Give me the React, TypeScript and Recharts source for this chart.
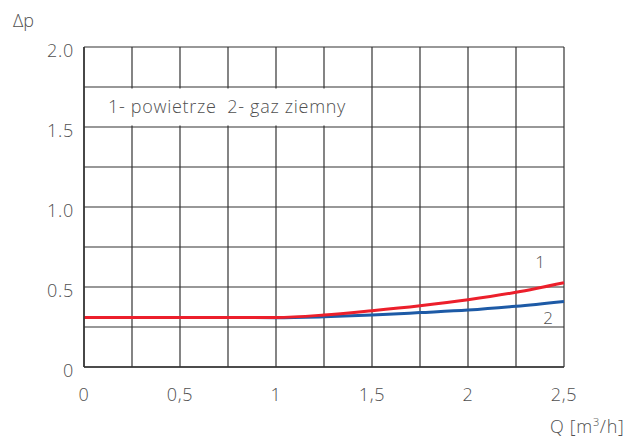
import React from "react";
import {
  LineChart,
  Line,
  XAxis,
  YAxis,
  CartesianGrid,
  ReferenceArea,
  ReferenceDot,
} from "recharts";

const flowQ = [0, 0.25, 0.5, 0.75, 1, 1.25, 1.5, 1.75, 2, 2.25, 2.5];
const airDp = [0.31, 0.31, 0.31, 0.31, 0.31, 0.325, 0.352, 0.383, 0.42, 0.467, 0.527];
const gasDp = [0.31, 0.31, 0.31, 0.31, 0.308, 0.314, 0.325, 0.34, 0.356, 0.38, 0.41];

const xTicks = [0, 0.25, 0.5, 0.75, 1, 1.25, 1.5, 1.75, 2, 2.25, 2.5];
const yTicks = [0, 0.25, 0.5, 0.75, 1, 1.25, 1.5, 1.75, 2];

const FONT = "'Open Sans', Roboto, sans-serif";
const TEXT = "#505050";
const FS = 18;
const LS = 0.7;

const data = flowQ.map((q, i) => ({ q, air: airDp[i], gas: gasDp[i] }));

const isMajor = (v: number) => Math.abs(v * 2 - Math.round(v * 2)) < 1e-6;

function XTick({ x, y, payload }: any) {
  const v = payload.value as number;
  if (!isMajor(v)) return null;
  const label = v === 0 ? "0" : String(v).replace(".", ",");
  return (
    <text x={x} y={y} dy={26} textAnchor="middle" fill={TEXT} fontSize={FS} fontWeight={300} fontFamily={FONT} letterSpacing={LS}>
      {label}
    </text>
  );
}

function YTick({ x, y, payload }: any) {
  const v = payload.value as number;
  if (!isMajor(v)) return null;
  const label = v === 0 ? "0" : v.toFixed(1);
  return (
    <text x={x - 2} y={y} dy={10} textAnchor="end" fill={TEXT} fontSize={FS} fontWeight={300} fontFamily={FONT} letterSpacing={LS}>
      {label}
    </text>
  );
}

export default function App() {
  return (
    <div style={{ position: "relative", width: 626, height: 440, background: "#fff" }}>
      <style>{`body{margin:0}`}</style>
      <div style={{ position: "absolute", left: 13, top: 8, fontFamily: FONT, fontWeight: 300, fontSize: FS, color: TEXT }}>
        Δp
      </div>
      <div style={{ position: "absolute", left: 550, top: 414, fontFamily: FONT, fontWeight: 300, fontSize: FS, color: TEXT, letterSpacing: LS }}>
        Q [m<sup style={{ fontSize: 11 }}>3</sup>/h]
      </div>
      <LineChart width={626} height={440} data={data} margin={{ top: 47, right: 62, bottom: 0, left: 0 }}>
        <CartesianGrid stroke="#333" strokeWidth={1.2} />
        <XAxis
          dataKey="q"
          type="number"
          domain={[0, 2.5]}
          ticks={xTicks}
          interval={0}
          height={73}
          axisLine={{ stroke: "#333", strokeWidth: 1.5 }}
          tickLine={false}
          tick={<XTick />}
        />
        <YAxis
          type="number"
          domain={[0, 2]}
          ticks={yTicks}
          interval={0}
          width={84}
          axisLine={{ stroke: "#333", strokeWidth: 1.5 }}
          tickLine={false}
          tick={<YTick />}
        />
        <ReferenceArea
          x1={0.01}
          x2={1.49}
          y1={1.51}
          y2={1.74}
          fill="#fff"
          fillOpacity={1}
          stroke="none"
          label={{
            value: "1- powietrze\u00a0 2- gaz ziemny",
            position: "insideLeft",
            offset: 22,
            fill: TEXT,
            fontSize: FS,
            fontWeight: 300,
            fontFamily: FONT,
            letterSpacing: LS,
          }}
        />
        <Line
          dataKey="gas"
          type="monotone"
          stroke="#1d5aa6"
          strokeWidth={3}
          dot={false}
          isAnimationActive={false}
        />
        <Line
          dataKey="air"
          type="monotone"
          stroke="#ec1f2b"
          strokeWidth={3}
          dot={false}
          isAnimationActive={false}
        />
        <ReferenceDot
          x={2.375}
          y={0.656}
          r={0}
          stroke="none"
          label={{ value: "1", position: "center", fill: TEXT, fontSize: 17, fontWeight: 300, fontFamily: FONT }}
        />
        <ReferenceDot
          x={2.417}
          y={0.306}
          r={0}
          stroke="none"
          label={{ value: "2", position: "center", fill: TEXT, fontSize: 17, fontWeight: 300, fontFamily: FONT }}
        />
      </LineChart>
    </div>
  );
}
